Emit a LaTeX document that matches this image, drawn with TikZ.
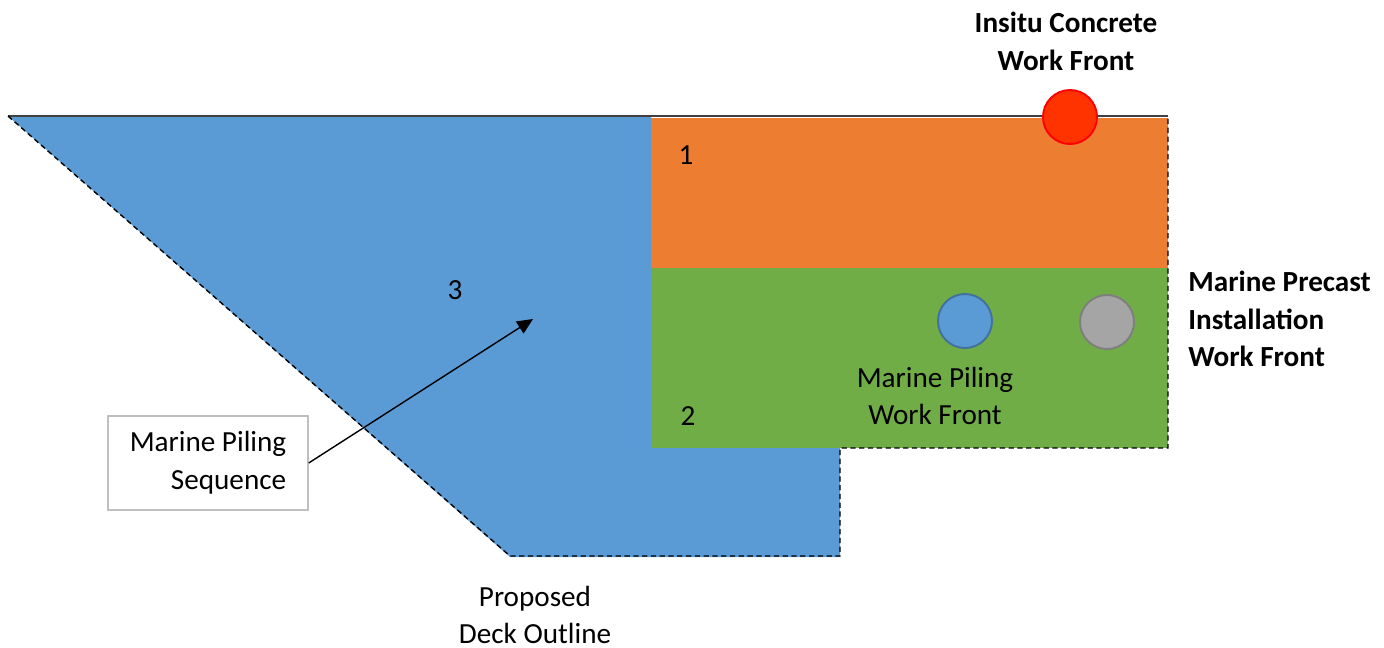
\documentclass[tikz,border=0pt]{standalone}
\usepackage{fontspec}
\setmainfont{Carlito}
\usetikzlibrary{arrows.meta}
\definecolor{deckblue}{HTML}{5B9BD5}
\definecolor{pileedge}{HTML}{41719C}
\definecolor{stageorange}{HTML}{ED7D31}
\definecolor{stagegreen}{HTML}{70AD47}
\definecolor{hotred}{HTML}{FF3300}
\definecolor{precastgray}{HTML}{A5A5A5}
\definecolor{rimgray}{HTML}{7F7F7F}
\definecolor{boxgray}{HTML}{BFBFBF}
\definecolor{dkline}{HTML}{404040}

\begin{document}
\begin{tikzpicture}[
    x=0.2mm, y=-0.2mm,
    font=\fontsize{16.6}{21.5}\selectfont,
    txt/.style={inner sep=0pt, align=center},
    bold/.style={txt, font=\fontsize{16.6}{21.5}\selectfont\bfseries},
    front/.style={circle, minimum size=10.8mm, inner sep=0pt, line width=1.1pt},
    outline/.style={draw=black, dash pattern=on 3pt off 2pt, line width=0.8pt},
    callout/.style={draw=boxgray, line width=0.8pt, fill=white,
        minimum width=40mm, minimum height=18.8mm, align=right},
    seqarrow/.style={-{Triangle[length=9pt, width=8pt]}, line width=0.8pt}
]
\useasboundingbox (0,0) rectangle (1384,647);

% --- deck zones ---
\fill[deckblue] (8,116) -- (651,116) -- (651,448) -- (840,448)
    -- (840,557) -- (510,557) -- cycle;
\fill[stageorange] (651,118) rectangle (1168,268);
\fill[stagegreen] (651,268) rectangle (1168,448);

% --- deck outline ---
\draw[dkline, line width=1.1pt] (8,116) -- (1168,116);
\draw[outline] (8,116) -- (510,556) -- (840,556) -- (840,448)
    -- (1168,448) -- (1168,116);

% --- zone numbers ---
\node[txt] (n1) at (686,155) {1};
\node[txt] (n2) at (688,416) {2};
\node[txt] (n3) at (455,290) {3};

% --- work fronts ---
\node[front, fill=hotred, draw=red] (insitu) at (1070,117) {};
\node[front, fill=deckblue, draw=pileedge] (piling) at (965,321) {};
\node[front, fill=precastgray, draw=rimgray] (precast) at (1107,322) {};

\node[bold] (insitulbl) at (1066,41) {Insitu Concrete\\Work Front};
\node[bold, anchor=west, align=left] (precastlbl) at (1188,319)
    {Marine Precast\\Installation\\Work Front};
\node[txt] (pilinglbl) at (935,396) {Marine Piling\\Work Front};
\node[txt] (decklbl) at (535,615) {Proposed\\Deck Outline};

% --- piling sequence callout ---
\node[callout] (seq) at (208,463) {Marine Piling\\Sequence};
\coordinate (seqtip) at (533,319);
\draw[seqarrow] (seq.east) -- (seqtip);

\end{tikzpicture}
\end{document}
